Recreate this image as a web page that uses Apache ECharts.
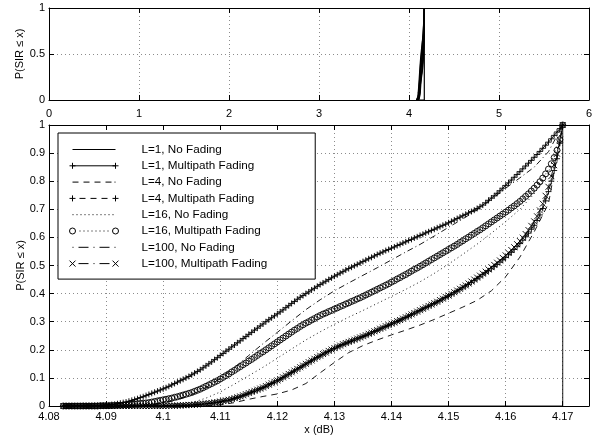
<!DOCTYPE html>
<html><head><meta charset="utf-8">
<script src="https://cdn.jsdelivr.net/npm/echarts@6/dist/echarts.min.js"></script>
<style>html,body{margin:0;padding:0;background:#fff}#c{width:596px;height:439px}</style>
</head><body><div id="c"></div>
<script>
// x positions of the multipath-fading samples (dB)
const xsFine = [
4.0825,4.083,4.0835,4.084,4.0845,4.085,4.0855,4.086,4.0865,4.087,
4.0875,4.088,4.0885,4.089,4.0895,4.09,4.0905,4.091,4.0915,4.092,
4.0925,4.093,4.0935,4.094,4.0945,4.095,4.0955,4.096,4.0965,4.097,
4.0975,4.098,4.0985,4.099,4.0995,4.1,4.1005,4.101,4.1015,4.102,
4.1025,4.103,4.1035,4.104,4.1045,4.105,4.1055,4.106,4.1065,4.107,
4.1075,4.108,4.1085,4.109,4.1095,4.11,4.1105,4.111,4.1115,4.112,
4.1125,4.113,4.1135,4.114,4.1145,4.115,4.1155,4.116,4.1165,4.117,
4.1175,4.118,4.1185,4.119,4.1195,4.12,4.1205,4.121,4.1215,4.122,
4.1225,4.123,4.1235,4.124,4.1245,4.125,4.1255,4.126,4.1265,4.127,
4.1275,4.128,4.1285,4.129,4.1295,4.13,4.1305,4.131,4.1315,4.132,
4.1325,4.133,4.1335,4.134,4.1345,4.135,4.1355,4.136,4.1365,4.137,
4.1375,4.138,4.1385,4.139,4.1395,4.14,4.1405,4.141,4.1415,4.142,
4.1425,4.143,4.1435,4.144,4.1445,4.145,4.1455,4.146,4.1465,4.147,
4.1475,4.148,4.1485,4.149,4.1495,4.15,4.1505,4.151,4.1515,4.152,
4.1525,4.153,4.1535,4.154,4.1545,4.155,4.1555,4.156,4.1565,4.157,
4.1575,4.158,4.1585,4.159,4.1595,4.16,4.1605,4.161,4.1615,4.162,
4.1625,4.163,4.1635,4.164,4.1645,4.165,4.1655,4.166,4.1665,4.167,
4.1675,4.168,4.1685,4.169,4.1695,4.17];

const yL1Multipath = [
0,0,0,0,0,0,0,0.001,0.001,0.001,
0.001,0.002,0.002,0.002,0.003,0.003,0.004,0.005,0.006,0.008,
0.010,0.012,0.014,0.017,0.020,0.023,0.026,0.030,0.033,0.037,
0.041,0.045,0.049,0.053,0.057,0.061,0.065,0.070,0.075,0.080,
0.085,0.090,0.095,0.100,0.105,0.111,0.117,0.123,0.129,0.136,
0.143,0.150,0.157,0.165,0.172,0.180,0.187,0.195,0.202,0.210,
0.217,0.225,0.232,0.240,0.247,0.255,0.262,0.270,0.277,0.285,
0.292,0.300,0.307,0.314,0.321,0.328,0.335,0.342,0.350,0.357,
0.365,0.372,0.380,0.387,0.393,0.400,0.406,0.413,0.419,0.426,
0.432,0.438,0.444,0.450,0.456,0.462,0.467,0.473,0.478,0.484,
0.489,0.494,0.499,0.504,0.509,0.514,0.519,0.524,0.529,0.534,
0.539,0.544,0.548,0.553,0.557,0.562,0.566,0.571,0.575,0.580,
0.584,0.589,0.593,0.598,0.602,0.607,0.611,0.616,0.620,0.625,
0.629,0.634,0.638,0.643,0.647,0.652,0.657,0.662,0.667,0.672,
0.677,0.682,0.687,0.692,0.697,0.703,0.709,0.715,0.723,0.732,
0.740,0.748,0.757,0.766,0.775,0.785,0.794,0.804,0.814,0.824,
0.834,0.844,0.854,0.864,0.874,0.885,0.895,0.906,0.917,0.928,
0.939,0.951,0.963,0.975,0.987,1.000];

const yL4Multipath = [
0,0,0,0,0,0,0,0,0,0,
0,0,0,0,0,0,0,0,0,0,
0,0,0,0,0,0,0,0,0,0,
0,0,0,0,0,0,0,0.001,0.001,0.001,
0.001,0.002,0.002,0.003,0.003,0.004,0.004,0.005,0.006,0.007,
0.008,0.009,0.010,0.012,0.013,0.015,0.017,0.019,0.021,0.024,
0.027,0.030,0.033,0.037,0.041,0.045,0.049,0.053,0.057,0.061,
0.065,0.070,0.075,0.080,0.085,0.090,0.095,0.101,0.107,0.113,
0.119,0.125,0.131,0.137,0.143,0.149,0.155,0.161,0.167,0.173,
0.178,0.184,0.189,0.195,0.200,0.205,0.210,0.214,0.219,0.223,
0.227,0.231,0.235,0.239,0.243,0.247,0.251,0.256,0.260,0.265,
0.269,0.274,0.278,0.283,0.287,0.292,0.296,0.301,0.305,0.310,
0.315,0.320,0.325,0.330,0.335,0.340,0.345,0.350,0.355,0.360,
0.365,0.370,0.375,0.381,0.386,0.392,0.397,0.403,0.409,0.415,
0.421,0.427,0.433,0.440,0.446,0.453,0.460,0.467,0.474,0.481,
0.488,0.496,0.504,0.512,0.520,0.529,0.538,0.547,0.557,0.567,
0.578,0.590,0.602,0.615,0.629,0.643,0.660,0.680,0.703,0.730,
0.763,0.800,0.838,0.880,0.935,1.000];

const yL16Multipath = [
0,0,0,0,0,0,0,0,0,0,
0,0,0,0.001,0.001,0.001,0.001,0.002,0.002,0.003,
0.003,0.004,0.004,0.005,0.006,0.007,0.008,0.009,0.010,0.011,
0.012,0.014,0.016,0.018,0.020,0.022,0.024,0.026,0.028,0.031,
0.033,0.036,0.039,0.042,0.045,0.048,0.052,0.056,0.060,0.065,
0.070,0.075,0.080,0.085,0.090,0.096,0.102,0.108,0.114,0.121,
0.127,0.134,0.140,0.147,0.153,0.160,0.166,0.173,0.180,0.187,
0.193,0.200,0.207,0.214,0.221,0.228,0.235,0.242,0.249,0.256,
0.263,0.270,0.276,0.283,0.289,0.295,0.300,0.306,0.311,0.317,
0.322,0.327,0.331,0.336,0.340,0.345,0.349,0.354,0.358,0.363,
0.367,0.372,0.376,0.381,0.385,0.390,0.395,0.400,0.405,0.410,
0.415,0.420,0.425,0.430,0.435,0.441,0.446,0.452,0.457,0.463,
0.468,0.474,0.480,0.486,0.491,0.497,0.503,0.509,0.515,0.521,
0.527,0.533,0.539,0.545,0.551,0.557,0.563,0.569,0.575,0.582,
0.588,0.595,0.601,0.608,0.614,0.621,0.627,0.634,0.641,0.648,
0.655,0.662,0.669,0.676,0.683,0.690,0.697,0.705,0.712,0.720,
0.728,0.737,0.746,0.755,0.765,0.775,0.786,0.798,0.811,0.826,
0.843,0.862,0.884,0.910,0.948,1.000];

const yL100Multipath = [
0,0,0,0,0,0,0,0,0,0,
0,0,0,0,0,0,0,0,0,0,
0,0,0,0,0,0,0,0,0,0,
0,0,0,0,0,0,0.001,0.001,0.001,0.001,
0.002,0.002,0.003,0.003,0.004,0.004,0.005,0.006,0.007,0.008,
0.009,0.010,0.011,0.013,0.014,0.016,0.018,0.020,0.022,0.025,
0.028,0.031,0.034,0.038,0.042,0.046,0.050,0.054,0.058,0.062,
0.066,0.071,0.076,0.081,0.086,0.091,0.096,0.102,0.108,0.114,
0.120,0.126,0.132,0.138,0.144,0.150,0.156,0.162,0.168,0.174,
0.179,0.185,0.190,0.196,0.201,0.206,0.211,0.215,0.220,0.224,
0.228,0.232,0.236,0.240,0.244,0.248,0.252,0.257,0.261,0.266,
0.270,0.275,0.279,0.284,0.288,0.293,0.297,0.302,0.306,0.311,
0.316,0.321,0.326,0.331,0.336,0.341,0.346,0.351,0.356,0.361,
0.366,0.371,0.377,0.382,0.388,0.393,0.399,0.405,0.411,0.417,
0.423,0.429,0.436,0.443,0.450,0.457,0.464,0.471,0.478,0.486,
0.494,0.502,0.510,0.518,0.527,0.536,0.545,0.555,0.565,0.576,
0.587,0.599,0.612,0.626,0.641,0.657,0.675,0.696,0.720,0.748,
0.780,0.818,0.857,0.898,0.948,1.000];

// x positions of the no-fading curves (dB)
const xsCoarse = [4.0825,4.085,4.0875,4.09,4.0925,4.095,4.0975,4.1,4.1025,4.105,
4.1075,4.11,4.1125,4.115,4.1175,4.12,4.1225,4.125,4.1275,4.13,
4.1325,4.135,4.1375,4.14,4.1425,4.145,4.1475,4.15,4.1525,4.155,
4.1575,4.16,4.1625,4.165,4.1675,4.17];
const yL4NoFading = [0,0,0,0,0,0,0,0,0,0,
0,0.004,0.012,0.024,0.034,0.043,0.057,0.080,0.118,0.155,
0.190,0.215,0.235,0.253,0.270,0.288,0.308,0.330,0.352,0.376,
0.410,0.460,0.530,0.620,0.720,1.000];
const yL16NoFading = [0,0,0,0,0,0,0,0,0.004,0.012,
0.028,0.050,0.078,0.108,0.138,0.170,0.203,0.235,0.264,0.291,
0.316,0.340,0.365,0.390,0.415,0.442,0.472,0.505,0.540,0.576,
0.615,0.656,0.700,0.755,0.830,1.000];
const yL100NoFading = [0,0,0,0,0,0,0.003,0.010,0.022,0.040,
0.066,0.098,0.137,0.180,0.222,0.262,0.303,0.343,0.378,0.410,
0.438,0.465,0.492,0.520,0.548,0.575,0.605,0.636,0.666,0.698,
0.735,0.775,0.812,0.850,0.905,1.000];
const xsStep = [4.0825, 4.17, 4.17];
const yL1NoFading = [0, 0, 1];

const seriesNames = ['L=1, No Fading','L=1, Multipath Fading','L=4, No Fading','L=4, Multipath Fading',
  'L=16, No Fading','L=16, Multipath Fading','L=100, No Fading','L=100, Multipath Fading'];
const yAxisTitle = 'P(SIR \u2264 x)';
const xAxisTitle = 'x (dB)';

const FONT = "'Liberation Sans', Arial, Helvetica, sans-serif";
const plusPath = 'path://M0,5L10,5M5,0L5,10';
const crossPath = 'path://M0,0L10,10M10,0L0,10';
const DASH = [6,5], DOT = [1,3], DASHDOT = [6,3,1,3];

// legend sample glyphs (line with markers at both ends, MATLAB style)
const BOX = 'M0,0M49,8';
const PLUS_ENDS = 'M0,4L6,4M3,1L3,7M43,4L49,4M46,1L46,7';
const CROSS_ENDS = 'M0,1L6,7M6,1L0,7M43,1L49,7M49,1L43,7';
const CIRC_ENDS = 'M0,4A3,3 0 1,1 6,4A3,3 0 1,1 0,4M43,4A3,3 0 1,1 49,4A3,3 0 1,1 43,4';
function dots(a, b, step){ let s=''; for(let x=a; x<=b; x+=step){ s += 'M'+x+',4L'+(x+1)+',4'; } return s; }
const legendIcons = [
  'path://' + BOX + 'M3,4L46,4',
  'path://' + BOX + 'M3,4L46,4' + PLUS_ENDS,
  'path://' + BOX + 'M3,4L9,4M14,4L20,4M25,4L31,4M36,4L42,4M45,4L46,4',
  'path://' + BOX + PLUS_ENDS + 'M10,4L16,4M21,4L27,4M32,4L38,4',
  'path://' + BOX + dots(3, 45, 4),
  'path://' + BOX + CIRC_ENDS + dots(10, 38, 4),
  'path://' + BOX + 'M3,4L4,4M9,4L19,4M24,4L25,4M30,4L40,4M45,4L46,4',
  'path://' + BOX + CROSS_ENDS + 'M9,4L19,4M24,4L25,4M30,4L40,4'
];

const curves = [
  {x: xsStep, y: yL1NoFading, type: 'solid', sym: 'none'},
  {x: xsFine, y: yL1Multipath, type: 'solid', sym: plusPath},
  {x: xsCoarse, y: yL4NoFading, type: DASH, sym: 'none'},
  {x: xsFine, y: yL4Multipath, type: DASH, sym: plusPath},
  {x: xsCoarse, y: yL16NoFading, type: DOT, sym: 'none'},
  {x: xsFine, y: yL16Multipath, type: DOT, sym: 'circle'},
  {x: xsCoarse, y: yL100NoFading, type: DASHDOT, sym: 'none'},
  {x: xsFine, y: yL100Multipath, type: DASHDOT, sym: crossPath}
];
function pairs(xs, ys){ return xs.map((x,i)=>[x, ys[i]]); }

const series = [];
curves.forEach((c, i) => {
  series.push({
    name: 'top-' + i, type: 'line', xAxisIndex: 0, yAxisIndex: 0,
    data: pairs(c.x, c.y), symbol: 'none', silent: true,
    lineStyle: {color: '#000', width: 1.2, type: 'solid'}
  });
  series.push({
    name: seriesNames[i], type: 'line', xAxisIndex: 1, yAxisIndex: 1,
    data: pairs(c.x, c.y), symbol: c.sym, symbolSize: 6,
    showSymbol: c.sym !== 'none', silent: true,
    itemStyle: {color: 'none', borderColor: '#000', borderWidth: 0.9},
    lineStyle: {color: '#000', width: 0.9, type: c.type}
  });
});

const axisCommon = {
  axisLine: {show: true, onZero: false, lineStyle: {color: '#000', width: 1}},
  axisTick: {show: true, inside: true, length: 5, lineStyle: {color: '#000'}},
  axisLabel: {color: '#000', fontSize: 11, fontFamily: FONT},
  nameTextStyle: {color: '#000', fontSize: 11, fontFamily: FONT},
  nameMoveOverlap: false
};
const grid = {show: true, lineStyle: {color: '#8c8c8c', width: 1, type: [1,3]}};
const fmt = v => String(+v.toFixed(2));

const option = {
  animation: false,
  backgroundColor: '#fff',
  grid: [
    {left: 49, top: 8, width: 540, height: 92, containLabel: false, outerBoundsMode: 'none'},
    {left: 49, top: 125, width: 540, height: 281, containLabel: false, outerBoundsMode: 'none'}
  ],
  xAxis: [
    Object.assign({}, axisCommon, {gridIndex: 0, type: 'value', min: 0, max: 6, interval: 1, position: 'bottom',
      splitLine: grid, axisLabel: Object.assign({}, axisCommon.axisLabel, {margin: 8, formatter: fmt})}),
    Object.assign({}, axisCommon, {gridIndex: 1, type: 'value', min: 4.08, max: 4.1746, interval: 0.01, position: 'bottom',
      splitLine: grid, name: xAxisTitle, nameLocation: 'middle', nameGap: 18,
      axisLabel: Object.assign({}, axisCommon.axisLabel, {margin: 5, formatter: fmt, showMaxLabel: false})}),
    Object.assign({}, axisCommon, {gridIndex: 0, type: 'value', min: 0, max: 6, interval: 1, position: 'top',
      splitLine: {show: false}, axisLabel: {show: false}}),
    Object.assign({}, axisCommon, {gridIndex: 1, type: 'value', min: 4.08, max: 4.1746, interval: 0.01, position: 'top',
      splitLine: {show: false}, axisLabel: {show: false}})
  ],
  yAxis: [
    Object.assign({}, axisCommon, {gridIndex: 0, type: 'value', min: 0, max: 1, interval: 0.5, position: 'left',
      splitLine: grid, name: yAxisTitle, nameLocation: 'middle', nameGap: 24,
      axisLabel: Object.assign({}, axisCommon.axisLabel, {margin: 4, formatter: fmt})}),
    Object.assign({}, axisCommon, {gridIndex: 1, type: 'value', min: 0, max: 1, interval: 0.1, position: 'left',
      splitLine: grid, name: yAxisTitle, nameLocation: 'middle', nameGap: 23,
      axisLabel: Object.assign({}, axisCommon.axisLabel, {margin: 4, formatter: fmt})}),
    Object.assign({}, axisCommon, {gridIndex: 0, type: 'value', min: 0, max: 1, interval: 0.5, position: 'right',
      splitLine: {show: false}, axisLabel: {show: false}}),
    Object.assign({}, axisCommon, {gridIndex: 1, type: 'value', min: 0, max: 1, interval: 0.1, position: 'right',
      splitLine: {show: false}, axisLabel: {show: false}})
  ],
  legend: {
    data: seriesNames.map((n, i) => ({name: n, icon: legendIcons[i]})),
    orient: 'vertical', left: 58, top: 133,
    itemWidth: 49, itemHeight: 8, itemGap: 3.3,
    padding: [10, 48, 9, 9],
    borderColor: '#000', borderWidth: 1, backgroundColor: '#fff',
    selectedMode: false,
    itemStyle: {color: 'none', borderColor: '#000', borderWidth: 1},
    textStyle: {color: '#000', fontSize: 11.7, fontFamily: FONT, padding: [0, 0, 0, 18]}
  },
  series: series
};
echarts.init(document.getElementById('c'), null, {renderer: 'canvas'}).setOption(option);
</script></body></html>
